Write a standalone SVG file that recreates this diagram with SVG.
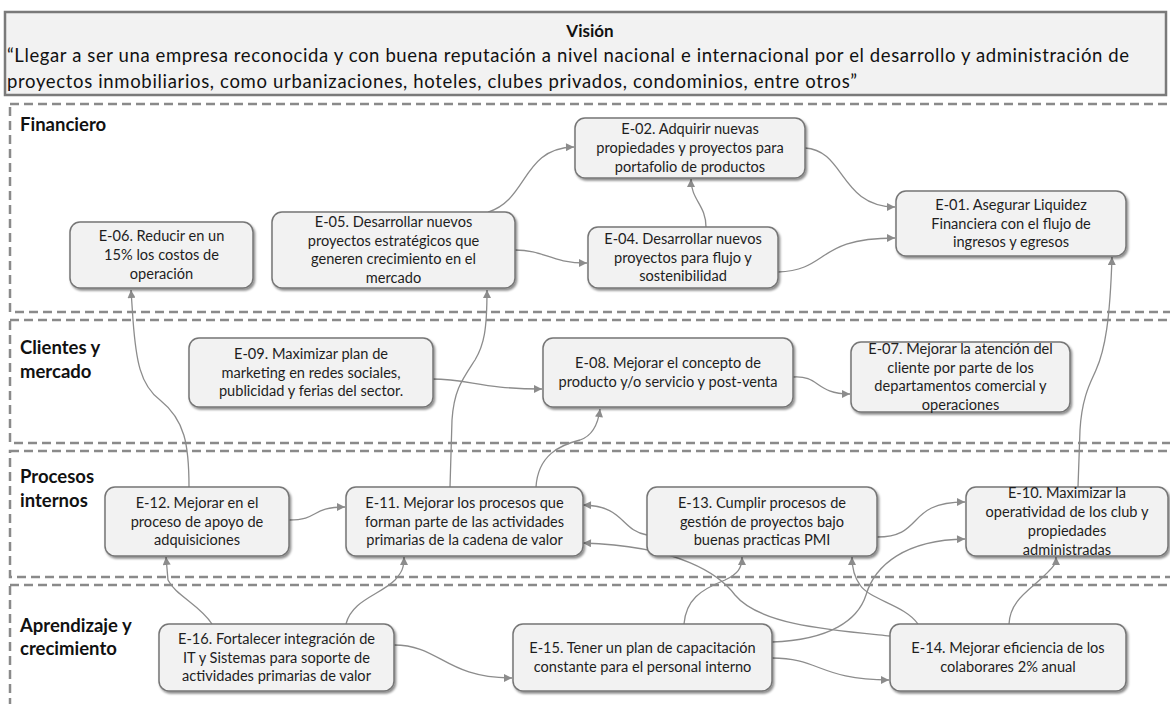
<svg xmlns="http://www.w3.org/2000/svg" width="1170" height="704" viewBox="0 0 1170 704">
  <defs>
    <style>
      .vision-box { fill: #f2f2f2; stroke: #7a7a7a; stroke-width: 2.5; }
      .vision-title { font-family: Lato, "Liberation Sans", sans-serif; font-weight: bold; font-size: 17px; fill: #111; text-anchor: middle; }
      .vision-text { font-family: Lato, "Liberation Sans", sans-serif; font-size: 18.5px; fill: #111; }
      .lane { fill: none; stroke: #8a8a8a; stroke-width: 2.5; stroke-dasharray: 9 5; }
      .lane-label { font-family: Lato, "Liberation Sans", sans-serif; font-weight: bold; font-size: 18.5px; fill: #111; }
      .node rect { fill: #f2f2f2; stroke: #767676; stroke-width: 1.5; filter: url(#shadow); }
      .node text { font-family: Lato, "Liberation Sans", sans-serif; font-size: 14.6px; fill: #1e1e1e; text-anchor: middle; }
      .link { fill: none; stroke: #8c8c8c; stroke-width: 1.3; marker-end: url(#arrow); }
    </style>
    <filter id="shadow" x="-10%" y="-10%" width="125%" height="130%">
      <feDropShadow dx="1.5" dy="2" stdDeviation="1" flood-color="#000" flood-opacity="0.45"/>
    </filter>
    <marker id="arrow" viewBox="0 0 10 10" refX="10" refY="5" markerWidth="9" markerHeight="8" markerUnits="userSpaceOnUse" orient="auto">
      <path d="M0,0 L10,5 L0,10 z" fill="#8c8c8c"/>
    </marker>
  </defs>

  <rect width="1170" height="704" fill="#ffffff"/>

  <!-- Vision statement -->
  <g id="vision">
    <rect class="vision-box" x="5" y="12" width="1161" height="83"/>
    <text class="vision-title" x="590" y="37">Visión</text>
    <text class="vision-text" x="7" y="62" textLength="1122" lengthAdjust="spacing">“Llegar a ser una empresa reconocida y con buena reputación a nivel nacional e internacional por el desarrollo y administración de</text>
    <text class="vision-text" x="7" y="88" textLength="850" lengthAdjust="spacing">proyectos inmobiliarios, como urbanizaciones, hoteles, clubes privados, condominios, entre otros”</text>
  </g>

  <!-- Perspective lanes -->
  <g id="lanes">
    <rect class="lane" x="10" y="104" width="1170" height="208"/>
    <rect class="lane" x="10" y="320" width="1170" height="123"/>
    <rect class="lane" x="10" y="451" width="1170" height="126"/>
    <rect class="lane" x="10" y="585" width="1170" height="130"/>
    <text class="lane-label" x="20" y="131">Financiero</text>
    <text class="lane-label" x="20" y="354">Clientes y</text>
    <text class="lane-label" x="20" y="378">mercado</text>
    <text class="lane-label" x="20" y="483">Procesos</text>
    <text class="lane-label" x="20" y="507">internos</text>
    <text class="lane-label" x="20" y="632">Aprendizaje y</text>
    <text class="lane-label" x="20" y="655">crecimiento</text>
  </g>

  <!-- Cause-effect connectors -->
  <g id="connectors">
    <path class="link" d="M488,212 C528,200 522,148 574,147"/>
    <path class="link" d="M515,250 C545,250 550,263 587,263"/>
    <path class="link" d="M706,227 C706,205 691,200 691,179"/>
    <path class="link" d="M805,148 C845,150 840,207 895,207"/>
    <path class="link" d="M778,272 C830,270 815,238 895,238"/>
    <path class="link" d="M189,487 C189,445 185,420 160,400 C140,385 136,360 133,320 L131,290"/>
    <path class="link" d="M450,487 L452,420 C454,390 462,380 475,360 C484,345 487,330 487,290"/>
    <path class="link" d="M432,379 C470,379 480,389 542,389"/>
    <path class="link" d="M793,377 C820,375 815,394 850,394"/>
    <path class="link" d="M536,487 C538,455 560,445 580,440 C592,436 598,425 600,409"/>
    <path class="link" d="M1078,487 L1080,430 C1082,395 1092,380 1096,370 C1105,350 1110,320 1112,257"/>
    <path class="link" d="M289,520 C320,520 310,507 345,507"/>
    <path class="link" d="M647,535 C620,530 625,506 583,505"/>
    <path class="link" d="M877,537 C925,537 905,502 965,502"/>
    <path class="link" d="M212,624 C200,605 175,595 168,580 L166,557"/>
    <path class="link" d="M346,624 C352,600 380,595 395,580 C402,572 404,568 404,557"/>
    <path class="link" d="M394,645 C440,645 445,678 512,678"/>
    <path class="link" d="M684,624 C686,600 700,590 725,580 C738,574 742,568 742,557"/>
    <path class="link" d="M772,642 C830,640 858,620 866,595 C875,565 905,540 965,539"/>
    <path class="link" d="M772,658 C820,658 820,680 889,680"/>
    <path class="link" d="M918,624 C905,605 870,600 860,585 C855,578 852,570 852,557"/>
    <path class="link" d="M890,636 C830,630 760,625 735,595 C720,575 680,546 583,543"/>
    <path class="link" d="M1009,624 C1010,600 1030,590 1045,575 C1053,567 1056,565 1056,557"/>
  </g>

  <!-- Financiero -->
  <g id="E-02" class="node">
    <rect x="575" y="118" width="230" height="60" rx="10"/>
    <text x="690" y="134.2">E-02. Adquirir nuevas</text>
    <text x="690" y="153">propiedades y proyectos para</text>
    <text x="690" y="171.8">portafolio de productos</text>
  </g>
  <g id="E-01" class="node">
    <rect x="896" y="191" width="230" height="65" rx="10"/>
    <text x="1011" y="209.7">E-01. Asegurar Liquidez</text>
    <text x="1011" y="228.5">Financiera con el flujo de</text>
    <text x="1011" y="247.3">ingresos y egresos</text>
  </g>
  <g id="E-04" class="node">
    <rect x="588" y="227" width="190" height="61" rx="10"/>
    <text x="683" y="243.7">E-04. Desarrollar nuevos</text>
    <text x="683" y="262.5">proyectos para flujo y</text>
    <text x="683" y="281.3">sostenibilidad</text>
  </g>
  <g id="E-05" class="node">
    <rect x="272" y="212" width="243" height="76" rx="10"/>
    <text x="393.5" y="226.8">E-05. Desarrollar nuevos</text>
    <text x="393.5" y="245.6">proyectos estratégicos que</text>
    <text x="393.5" y="264.4">generen crecimiento en el</text>
    <text x="393.5" y="283.2">mercado</text>
  </g>
  <g id="E-06" class="node">
    <rect x="70" y="222" width="183" height="66" rx="10"/>
    <text x="161.5" y="241.2">E-06. Reducir en un</text>
    <text x="161.5" y="260">15% los costos de</text>
    <text x="161.5" y="278.8">operación</text>
  </g>

  <!-- Clientes y mercado -->
  <g id="E-09" class="node">
    <rect x="189" y="338" width="244" height="69" rx="10"/>
    <text x="311" y="358.7">E-09. Maximizar plan de</text>
    <text x="311" y="377.5">marketing en redes sociales,</text>
    <text x="311" y="396.3">publicidad y ferias del sector.</text>
  </g>
  <g id="E-08" class="node">
    <rect x="543" y="338" width="250" height="69" rx="10"/>
    <text x="668" y="368.1">E-08. Mejorar el concepto de</text>
    <text x="668" y="386.9">producto y/o servicio y post-venta</text>
  </g>
  <g id="E-07" class="node">
    <rect x="851" y="342" width="219" height="70" rx="10"/>
    <text x="960.5" y="353.8">E-07. Mejorar la atención del</text>
    <text x="960.5" y="372.6">cliente por parte de los</text>
    <text x="960.5" y="391.4">departamentos comercial y</text>
    <text x="960.5" y="410.2">operaciones</text>
  </g>

  <!-- Procesos internos -->
  <g id="E-12" class="node">
    <rect x="105" y="487" width="184" height="69" rx="10"/>
    <text x="197" y="507.7">E-12. Mejorar en el</text>
    <text x="197" y="526.5">proceso de apoyo de</text>
    <text x="197" y="545.3">adquisiciones</text>
  </g>
  <g id="E-11" class="node">
    <rect x="346" y="487" width="237" height="69" rx="10"/>
    <text x="464.5" y="507.7">E-11. Mejorar los procesos que</text>
    <text x="464.5" y="526.5">forman parte de las actividades</text>
    <text x="464.5" y="545.3">primarias de la cadena de valor</text>
  </g>
  <g id="E-13" class="node">
    <rect x="647" y="487" width="230" height="69" rx="10"/>
    <text x="762" y="507.7">E-13. Cumplir procesos de</text>
    <text x="762" y="526.5">gestión de proyectos bajo</text>
    <text x="762" y="545.3">buenas practicas PMI</text>
  </g>
  <g id="E-10" class="node">
    <rect x="966" y="487" width="202" height="69" rx="10"/>
    <text x="1067" y="498.3">E-10. Maximizar la</text>
    <text x="1067" y="517.1">operatividad de los club y</text>
    <text x="1067" y="535.9">propiedades</text>
    <text x="1067" y="554.7">administradas</text>
  </g>

  <!-- Aprendizaje y crecimiento -->
  <g id="E-16" class="node">
    <rect x="159" y="624" width="235" height="67" rx="10"/>
    <text x="276.5" y="643.7">E-16. Fortalecer integración de</text>
    <text x="276.5" y="662.5">IT y Sistemas para soporte de</text>
    <text x="276.5" y="681.3">actividades primarias de valor</text>
  </g>
  <g id="E-15" class="node">
    <rect x="513" y="624" width="259" height="67" rx="10"/>
    <text x="642.5" y="653.1">E-15. Tener un plan de capacitación</text>
    <text x="642.5" y="671.9">constante para el personal interno</text>
  </g>
  <g id="E-14" class="node">
    <rect x="890" y="624" width="236" height="67" rx="10"/>
    <text x="1008" y="653.1">E-14. Mejorar eficiencia de los</text>
    <text x="1008" y="671.9">colaborares 2% anual</text>
  </g>
</svg>
